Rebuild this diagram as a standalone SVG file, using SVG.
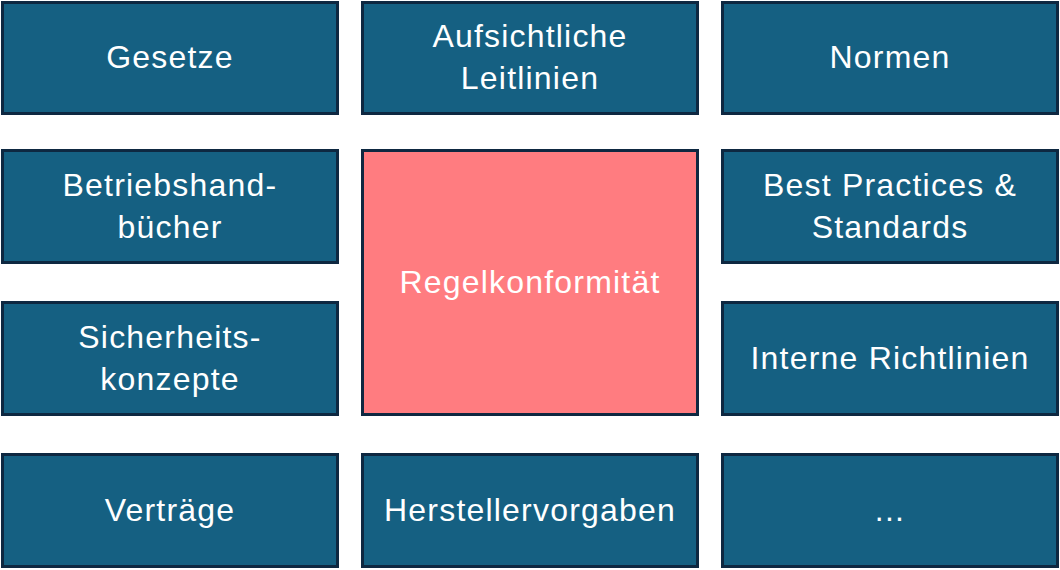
<svg xmlns="http://www.w3.org/2000/svg" width="1060" height="570" viewBox="0 0 1060 570">
<style>
.box{fill:#156082;stroke:#0E2841;stroke-width:3}
.hub{fill:#FF7C80;stroke:#0E2841;stroke-width:3}
.t{font-family:"Liberation Sans",Arial,sans-serif;font-size:32px;fill:#FFFFFF;text-anchor:middle;letter-spacing:1.2px}
</style>
<rect width="1060" height="570" fill="#FFFFFF"/>
<g id="connectors"></g>
<g id="n-gesetze"><rect class="box" x="2.5" y="2.5" width="335" height="111"/><text class="t" x="170" y="68">Gesetze</text></g>
<g id="n-leitlinien"><rect class="box" x="362.5" y="2.5" width="335" height="111"/><text class="t" x="530" y="47">Aufsichtliche</text><text class="t" x="530" y="89">Leitlinien</text></g>
<g id="n-normen"><rect class="box" x="722.5" y="2.5" width="335" height="111"/><text class="t" x="890" y="68">Normen</text></g>
<g id="n-betrieb"><rect class="box" x="2.5" y="150.5" width="335" height="112"/><text class="t" x="170" y="196">Betriebshand-</text><text class="t" x="170" y="238">bücher</text></g>
<g id="n-regel"><rect class="hub" x="362.5" y="150.5" width="335" height="264"/><text class="t" x="530" y="293">Regelkonformität</text></g>
<g id="n-best"><rect class="box" x="722.5" y="150.5" width="335" height="112"/><text class="t" x="890" y="196">Best Practices &amp;</text><text class="t" x="890" y="238">Standards</text></g>
<g id="n-sicher"><rect class="box" x="2.5" y="302.5" width="335" height="112"/><text class="t" x="170" y="348">Sicherheits-</text><text class="t" x="170" y="390">konzepte</text></g>
<g id="n-intern"><rect class="box" x="722.5" y="302.5" width="335" height="112"/><text class="t" x="890" y="369">Interne Richtlinien</text></g>
<g id="n-vertraege"><rect class="box" x="2.5" y="454.5" width="335" height="112"/><text class="t" x="170" y="521">Verträge</text></g>
<g id="n-hersteller"><rect class="box" x="362.5" y="454.5" width="335" height="112"/><text class="t" x="530" y="521">Herstellervorgaben</text></g>
<g id="n-more"><rect class="box" x="722.5" y="454.5" width="335" height="112"/><text class="t" x="890" y="521">...</text></g>
</svg>
